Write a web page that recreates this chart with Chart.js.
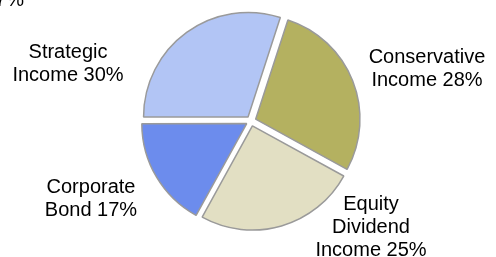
<!DOCTYPE html>
<html>
<head>
<meta charset="utf-8">
<script src="https://cdn.jsdelivr.net/npm/chart.js@4.4.0/dist/chart.umd.min.js"></script>
<style>
body{margin:0;background:#fff}
#wrap{width:496px;height:257px;position:relative}
</style>
</head>
<body>
<div id="wrap"><canvas id="chart"></canvas></div>
<script>
// fund mix, clockwise from the top
const funds=["Conservative Income","Equity Dividend Income","Corporate Bond","Strategic Income"]
const shares=[28,25,17,30]
const labelLines=[["Conservative","Income"],["Equity","Dividend","Income"],["Corporate","Bond"],["Strategic","Income"]]

// where each label sits (first line baseline)
const labelPos=[[427,63],[371,210],[91,193],[68,58]]
const colors=["#B4B160","#E2DFC3","#6C8CED","#B2C5F5"]

const pieLabels={
id:"pieLabels",
afterDraw(chart){
let ctx=chart.ctx
ctx.save()
ctx.font="20px 'Liberation Sans', Arial, sans-serif"
ctx.fillStyle="#000"
ctx.textAlign="center"
ctx.textBaseline="alphabetic"
labelLines.forEach((lines,i)=>{
let ls=lines.slice()
ls[ls.length-1]+=" "+shares[i]+"%"
ls.forEach((t,j)=>{
ctx.fillText(t,labelPos[i][0],labelPos[i][1]+j*23)
})
})
// clipped label from the chart above
ctx.textAlign="right"
ctx.fillText("7%",24,6)
ctx.restore()
}
}

new Chart(document.getElementById("chart"),{
type:"pie",
data:{
labels:funds,
datasets:[{
data:shares,
backgroundColor:colors,
borderColor:"#9a9a9a",
borderWidth:1.5,
offset:20
}]
},
options:{
responsive:true,
maintainAspectRatio:false,
animation:false,
rotation:18,
layout:{padding:{left:134,right:128,top:6,bottom:21}},
plugins:{legend:{display:false},tooltip:{enabled:false}}
},
plugins:[pieLabels]
})
</script>
</body>
</html>
